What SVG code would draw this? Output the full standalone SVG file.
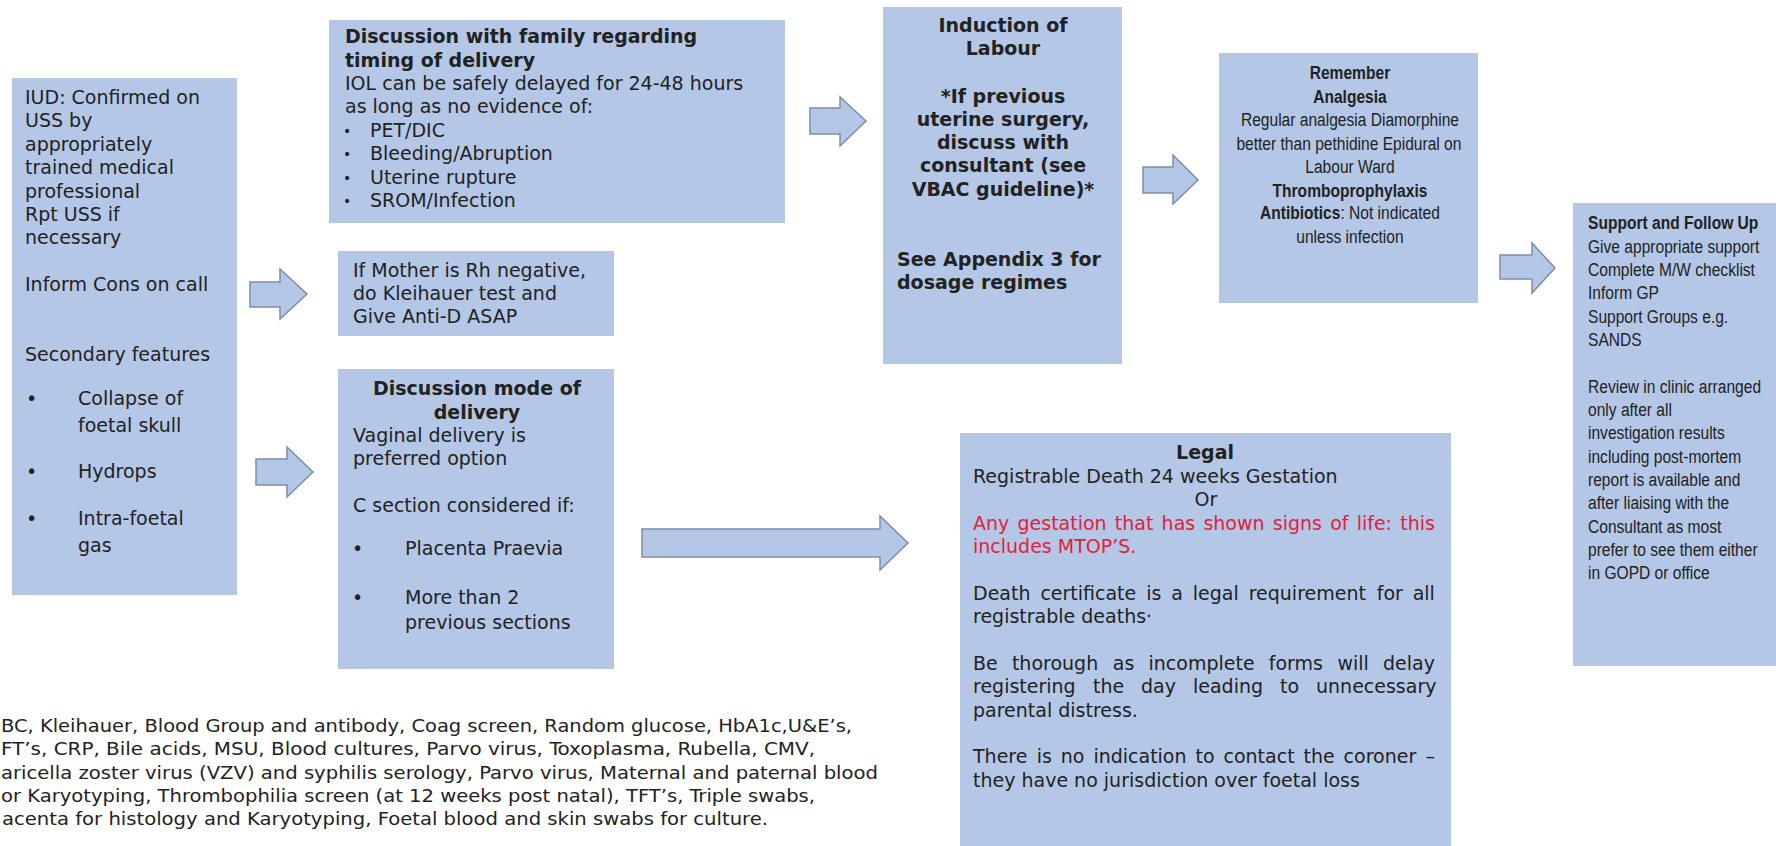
<svg xmlns="http://www.w3.org/2000/svg" width="1776" height="846" viewBox="0 0 1776 846">
<style>
.box{fill:#B4C7E7}
.arrow{fill:#B4C7E7;stroke:#7D8DAA;stroke-width:1.5;stroke-linejoin:miter}
.v{font-family:"DejaVu Sans",Verdana,sans-serif;font-size:19px;fill:#222}
.b{font-weight:bold}
.dot{font-family:"DejaVu Sans",Verdana,sans-serif;font-size:14px;fill:#222}
.n{font-family:"Liberation Sans",Arial,sans-serif;font-size:19px;fill:#222}
.t{font-family:"DejaVu Sans Condensed","DejaVu Sans",Tahoma,sans-serif;font-size:18px;fill:#222}
.c{text-anchor:middle}
.red{fill:#E3203C}
</style>
<rect width="1776" height="846" fill="#FFFFFF"/>

<g id="connectors">
<polygon class="arrow" points="250,282 280,282 280,269 307,294 280,319 280,307 250,307"/>
<polygon class="arrow" points="256,459 287,459 287,447 313,472 287,497 287,485 256,485"/>
<polygon class="arrow" points="810,108 840,108 840,97 866,121 840,146 840,134 810,134"/>
<polygon class="arrow" points="1143,167 1173,167 1173,155 1198,180 1173,204 1173,193 1143,193"/>
<polygon class="arrow" points="1500,255 1532,255 1532,243 1555,268 1532,293 1532,279 1500,279"/>
<polygon class="arrow" points="642,529 880,529 880,516 908,543 880,570 880,557 642,557"/>
</g>

<g id="node-iud">
<rect class="box" x="12" y="78" width="225" height="517"/>
<text class="v" x="25" y="104">IUD: Confirmed on</text>
<text class="v" x="25" y="127">USS by</text>
<text class="v" x="25" y="151">appropriately</text>
<text class="v" x="25" y="174">trained medical</text>
<text class="v" x="25" y="198">professional</text>
<text class="v" x="25" y="221">Rpt USS if</text>
<text class="v" x="25" y="244">necessary</text>
<text class="v" x="25" y="291">Inform Cons on call</text>
<text class="v" x="25" y="361">Secondary features</text>
<text class="v" x="26" y="405">•</text>
<text class="v" x="78" y="405">Collapse of</text>
<text class="v" x="78" y="432">foetal skull</text>
<text class="v" x="26" y="478">•</text>
<text class="v" x="78" y="478">Hydrops</text>
<text class="v" x="26" y="525">•</text>
<text class="v" x="78" y="525">Intra-foetal</text>
<text class="v" x="78" y="552">gas</text>
</g>

<g id="node-family">
<rect class="box" x="329" y="20" width="456" height="203"/>
<text class="v b" x="345" y="43">Discussion with family regarding</text>
<text class="v b" x="345" y="67">timing of delivery</text>
<text class="v" x="345" y="90">IOL can be safely delayed for 24-48 hours</text>
<text class="v" x="345" y="113">as long as no evidence of:</text>
<text class="dot" x="343" y="136">•</text>
<text class="v" x="370" y="137">PET/DIC</text>
<text class="dot" x="343" y="159">•</text>
<text class="v" x="370" y="160">Bleeding/Abruption</text>
<text class="dot" x="343" y="183">•</text>
<text class="v" x="370" y="184">Uterine rupture</text>
<text class="dot" x="343" y="206">•</text>
<text class="v" x="370" y="207">SROM/Infection</text>
</g>

<g id="node-rh">
<rect class="box" x="338" y="251" width="276" height="85"/>
<text class="v" x="353" y="277">If Mother is Rh negative,</text>
<text class="v" x="353" y="300">do Kleihauer test and</text>
<text class="v" x="353" y="323">Give Anti-D ASAP</text>
</g>

<g id="node-mode">
<rect class="box" x="338" y="369" width="276" height="300"/>
<text class="v b c" x="477" y="395">Discussion mode of</text>
<text class="v b c" x="477" y="419">delivery</text>
<text class="v" x="353" y="442">Vaginal delivery is</text>
<text class="v" x="353" y="465">preferred option</text>
<text class="v" x="353" y="512">C section considered if:</text>
<text class="v" x="352" y="555">•</text>
<text class="v" x="405" y="555">Placenta Praevia</text>
<text class="v" x="352" y="604">•</text>
<text class="v" x="405" y="604">More than 2</text>
<text class="v" x="405" y="629">previous sections</text>
</g>

<g id="node-iol">
<rect class="box" x="883" y="7" width="239" height="357"/>
<text class="v b c" x="1003" y="32">Induction of</text>
<text class="v b c" x="1003" y="55">Labour</text>
<text class="v b c" x="1003" y="103">*If previous</text>
<text class="v b c" x="1003" y="126">uterine surgery,</text>
<text class="v b c" x="1003" y="149">discuss with</text>
<text class="v b c" x="1003" y="172">consultant (see</text>
<text class="v b c" x="1003" y="196">VBAC guideline)*</text>
<text class="v b" x="897" y="266">See Appendix 3 for</text>
<text class="v b" x="897" y="289">dosage regimes</text>
</g>

<g id="node-remember">
<rect class="box" x="1219" y="53" width="259" height="250"/>
<g transform="matrix(0.82 0 0 1 0 0)">
<text class="n b c" x="1646.3" y="79">Remember</text>
<text class="n b c" x="1646.3" y="103">Analgesia</text>
<text class="n c" x="1646.3" y="126">Regular analgesia Diamorphine</text>
<text class="n c" x="1645" y="150">better than pethidine Epidural on</text>
<text class="n c" x="1646.3" y="173">Labour Ward</text>
<text class="n b c" x="1646.3" y="197">Thromboprophylaxis</text>
<text class="n c" x="1646.3" y="219"><tspan class="b">Antibiotics</tspan>: Not indicated</text>
<text class="n c" x="1646.3" y="243">unless infection</text>
</g>
</g>

<g id="node-support">
<rect class="box" x="1573" y="203" width="203" height="463"/>
<g transform="matrix(0.82 0 0 1 0 0)">
<text class="n b" x="1936.6" y="229">Support and Follow Up</text>
<text class="n" x="1936.6" y="253">Give appropriate support</text>
<text class="n" x="1936.6" y="276">Complete M/W checklist</text>
<text class="n" x="1936.6" y="299">Inform GP</text>
<text class="n" x="1936.6" y="323">Support Groups e.g.</text>
<text class="n" x="1936.6" y="346">SANDS</text>
<text class="n" x="1936.6" y="393">Review in clinic arranged</text>
<text class="n" x="1936.6" y="416">only after all</text>
<text class="n" x="1936.6" y="439">investigation results</text>
<text class="n" x="1936.6" y="463">including post-mortem</text>
<text class="n" x="1936.6" y="486">report is available and</text>
<text class="n" x="1936.6" y="509">after liaising with the</text>
<text class="n" x="1936.6" y="533">Consultant as most</text>
<text class="n" x="1936.6" y="556">prefer to see them either</text>
<text class="n" x="1936.6" y="579">in GOPD or office</text>
</g>
</g>

<g id="node-legal">
<rect class="box" x="960" y="433" width="491" height="413"/>
<text class="v b c" x="1205" y="459">Legal</text>
<text class="v" x="973" y="483">Registrable Death 24 weeks Gestation</text>
<text class="v c" x="1206" y="506">Or</text>
<text class="v red" y="530"><tspan x="973">Any</tspan> <tspan x="1017.5">gestation</tspan> <tspan x="1114.8">that</tspan> <tspan x="1161.6">has</tspan> <tspan x="1203.4">shown</tspan> <tspan x="1272.8">signs</tspan> <tspan x="1330.2">of</tspan> <tspan x="1356.7">life:</tspan> <tspan x="1400.2">this</tspan></text>
<text class="v red" x="973" y="553">includes MTOP’S.</text>
<text class="v" y="600"><tspan x="973">Death</tspan> <tspan x="1040.4">certificate</tspan> <tspan x="1146.2">is</tspan> <tspan x="1171.3">a</tspan> <tspan x="1192.8">legal</tspan> <tspan x="1248.7">requirement</tspan> <tspan x="1376.7">for</tspan> <tspan x="1412.7">all</tspan></text>
<text class="v" x="973" y="623">registrable deaths·</text>
<text class="v" y="670"><tspan x="973">Be</tspan> <tspan x="1011.9">thorough</tspan> <tspan x="1112.8">as</tspan> <tspan x="1148.5">incomplete</tspan> <tspan x="1268.7">forms</tspan> <tspan x="1337.4">will</tspan> <tspan x="1383">delay</tspan></text>
<text class="v" y="693"><tspan x="973">registering</tspan> <tspan x="1093">the</tspan> <tspan x="1141">day</tspan> <tspan x="1193">leading</tspan> <tspan x="1280">to</tspan> <tspan x="1316">unnecessary</tspan></text>
<text class="v" x="973" y="717">parental distress.</text>
<text class="v" y="763"><tspan x="973">There</tspan> <tspan x="1036.7">is</tspan> <tspan x="1060.8">no</tspan> <tspan x="1093.4">indication</tspan> <tspan x="1195.5">to</tspan> <tspan x="1223.5">contact</tspan> <tspan x="1303.5">the</tspan> <tspan x="1343.6">coroner</tspan> <tspan x="1425.6">–</tspan></text>
<text class="v" x="973" y="787">they have no jurisdiction over foetal loss</text>
</g>

<g id="investigations">
<text class="t" x="1" y="732" textLength="851" lengthAdjust="spacingAndGlyphs">BC, Kleihauer, Blood Group and antibody, Coag screen, Random glucose, HbA1c,U&amp;E’s,</text>
<text class="t" x="1" y="755" textLength="814" lengthAdjust="spacingAndGlyphs">FT’s, CRP, Bile acids, MSU, Blood cultures, Parvo virus, Toxoplasma, Rubella, CMV,</text>
<text class="t" x="1" y="779" textLength="877" lengthAdjust="spacingAndGlyphs">aricella zoster virus (VZV) and syphilis serology, Parvo virus, Maternal and paternal blood</text>
<text class="t" x="1" y="802" textLength="814" lengthAdjust="spacingAndGlyphs">or Karyotyping, Thrombophilia screen (at 12 weeks post natal), TFT’s, Triple swabs,</text>
<text class="t" x="2" y="825" textLength="766" lengthAdjust="spacingAndGlyphs">acenta for histology and Karyotyping, Foetal blood and skin swabs for culture.</text>
</g>
</svg>
